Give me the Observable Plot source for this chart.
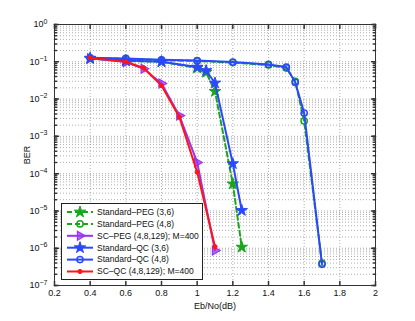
<!DOCTYPE html>
<html><head><meta charset="utf-8">
<script src="https://cdn.jsdelivr.net/npm/d3@7"></script>
<script src="https://cdn.jsdelivr.net/npm/@observablehq/plot@0.6"></script>
<style>
body{margin:0;background:#fff;}
#wrap{position:relative;width:415px;height:321px;font-family:"Liberation Sans",Arial,Helvetica,sans-serif;}
#legend{position:absolute;left:61px;top:203px;width:140px;height:75px;border:1px solid #222;background:#fff;}
</style></head><body><div id="wrap"></div>
<script>
// ---- data ----
const seriesNames = ["Standard–PEG (3,6)","Standard–PEG (4,8)","SC–PEG (4,8,129); M=400","Standard–QC (3,6)","Standard–QC (4,8)","SC–QC (4,8,129); M=400"];
const seriesColors = ["#1aa51a","#1aa51a","#9a32f5","#2b48ff","#2b48ff","#ff1515"];
const seriesDash = ["5,3","5,3",null,null,null,null];
const seriesSymbols = ["star","circle","triangle","star","circle","circle"];

const ebnoPeg36 = [0.4,0.6,0.8,1.0,1.05,1.1,1.2,1.25];
const berPeg36  = [0.12,0.105,0.1,0.068,0.052,0.016,5.3e-5,1.07e-6];
const ebnoPeg48 = [0.4,0.6,0.8,1.0,1.2,1.4,1.5,1.55,1.6,1.7];
const berPeg48  = [0.125,0.12,0.11,0.105,0.095,0.082,0.068,0.03,0.0026,4e-7];
const ebnoScPeg = [0.4,0.6,0.7,0.8,0.9,1.0,1.1];
const berScPeg  = [0.125,0.098,0.065,0.026,0.0036,2e-4,8.7e-7];
const ebnoQc36  = [0.4,0.6,0.8,1.0,1.05,1.1,1.2,1.25];
const berQc36   = [0.125,0.108,0.1,0.072,0.058,0.027,1.85e-4,1.03e-5];
const ebnoQc48  = [0.4,0.6,0.8,1.0,1.2,1.4,1.5,1.55,1.6,1.7];
const berQc48   = [0.128,0.123,0.113,0.108,0.098,0.085,0.072,0.028,0.0042,3.7e-7];
const ebnoScQc  = [0.4,0.6,0.7,0.8,0.9,1.0,1.1];
const berScQc   = [0.128,0.1,0.068,0.023,0.0033,1.1e-4,1.1e-6];

const xTickVals   = [0.2,0.4,0.6,0.8,1.0,1.2,1.4,1.6,1.8,2.0];
const xTickLabels = ["0.2","0.4","0.6","0.8","1","1.2","1.4","1.6","1.8","2"];
const yTickVals   = [1e-7,1e-6,1e-5,1e-4,1e-3,1e-2,1e-1,1];
const yTickExps   = ["−7","−6","−5","−4","−3","−2","−1","0"];
const xLabel = "Eb/No(dB)";
const yLabel = "BER";

// ---- build tables ----
const xs = [ebnoPeg36,ebnoPeg48,ebnoScPeg,ebnoQc36,ebnoQc48,ebnoScQc];
const ys = [berPeg36,berPeg48,berScPeg,berQc36,berQc48,berScQc];
const series = seriesNames.map((name,i)=>({name,i,rows:xs[i].map((x,j)=>({x,y:ys[i][j]}))}));

const yMinor = [];
yTickVals.forEach((v,k)=>{ if(k<yTickVals.length-1) for(let m=1;m<=9;m++) yMinor.push(m*v); });
yMinor.push(1);

const tickShape = {draw(ctx,l){ctx.moveTo(0,0);ctx.lineTo(0,-l);}};
const tickCol = "#333";

function dotOpts(i){
  const c = seriesColors[i], s = seriesSymbols[i];
  const base = {x:"x",y:"y",stroke:c,symbol:s};
  if(i===5) return {...base,r:2.1,fill:c,strokeWidth:1};
  if(s==="star") return {...base,r:3.6,fill:c,strokeWidth:1};
  if(s==="triangle") return {...base,r:3.3,fill:c,fillOpacity:0.7,strokeWidth:1.2,rotate:90};
  return {...base,r:3.1,fill:"none",strokeWidth:1.5};
}

const marks = [
  Plot.ruleY(yMinor,{y:d=>d,stroke:"#8c8c8c",strokeWidth:0.7,strokeDasharray:"1,2"}),
  Plot.ruleX(xTickVals.slice(1,-1),{x:d=>d,stroke:"#8c8c8c",strokeWidth:0.7,strokeDasharray:"1,2"}),
  Plot.vector(xTickVals,{x:d=>d,frameAnchor:"bottom",length:4,rotate:0,anchor:"start",shape:tickShape,stroke:tickCol}),
  Plot.vector(xTickVals,{x:d=>d,frameAnchor:"top",length:4,rotate:180,anchor:"start",shape:tickShape,stroke:tickCol}),
  Plot.vector(yTickVals,{y:d=>d,frameAnchor:"left",length:4,rotate:90,anchor:"start",shape:tickShape,stroke:tickCol}),
  Plot.vector(yTickVals,{y:d=>d,frameAnchor:"right",length:4,rotate:-90,anchor:"start",shape:tickShape,stroke:tickCol}),
  Plot.vector(yMinor,{y:d=>d,frameAnchor:"left",length:2,rotate:90,anchor:"start",shape:tickShape,stroke:tickCol}),
  Plot.vector(yMinor,{y:d=>d,frameAnchor:"right",length:2,rotate:-90,anchor:"start",shape:tickShape,stroke:tickCol}),
  Plot.frame({stroke:"#333",strokeWidth:1}),
  Plot.axisX(xTickVals,{anchor:"bottom",tickSize:0,tickPadding:4,fontSize:9,
    tickFormat:d=>xTickLabels[xTickVals.indexOf(d)],label:xLabel,labelArrow:"none",labelAnchor:"center",labelOffset:23}),
  Plot.axisY(yTickVals,{anchor:"left",tickSize:0,tickPadding:7,fontSize:9,
    tickFormat:d=>"10^"+yTickExps[yTickVals.indexOf(d)],label:yLabel,labelArrow:"none",labelAnchor:"center",labelOffset:31}),
];
series.forEach(s=>{
  marks.push(Plot.line(s.rows,{x:"x",y:"y",stroke:seriesColors[s.i],strokeWidth:2,
    strokeDasharray:seriesDash[s.i]||undefined}));
  marks.push(Plot.dot(s.rows,dotOpts(s.i)));
});

const plot = Plot.plot({
  width:415,height:321,
  marginLeft:54,marginRight:40,marginTop:24,marginBottom:36,
  style:{fontFamily:"'Liberation Sans',Arial,Helvetica,sans-serif",fontSize:"9px",color:"#111",background:"#fff"},
  x:{domain:[0.2,2]},
  y:{type:"log",domain:[1e-7,1]},
  marks
});
document.getElementById("wrap").appendChild(plot);

// superscript exponents on y tick labels; strip any label arrows
d3.select(plot).selectAll("text").each(function(){
  const t = this.textContent;
  if(this.childElementCount===0 && t.startsWith("10^")){
    const e = t.slice(3);
    const sel = d3.select(this);
    sel.text("");
    sel.append("tspan").text("10");
    sel.append("tspan").attr("dy","-0.55em").attr("font-size","7px").text(e);
  } else if(this.childElementCount===0 && /[↑→]/.test(t)){
    this.textContent = t.replace(/\s*[↑→]\s*/g,"");
  }
});

// legend (built from the series arrays)
const leg = d3.select("#wrap").append("div").attr("id","legend");
const lsvg = leg.append("svg").attr("width",140).attr("height",75);
series.forEach((s,k)=>{
  const cy = 8 + k*11.9;
  const c = seriesColors[s.i];
  lsvg.append("line").attr("x1",5).attr("x2",31).attr("y1",cy).attr("y2",cy)
    .attr("stroke",c).attr("stroke-width",2).attr("stroke-dasharray",seriesDash[s.i]);
  const o = dotOpts(s.i);
  const symType = o.symbol==="star"?d3.symbolStar:o.symbol==="triangle"?d3.symbolTriangle:d3.symbolCircle;
  lsvg.append("path").attr("d",d3.symbol(symType,Math.PI*o.r*o.r)())
    .attr("transform",`translate(18,${cy}) rotate(${o.rotate||0})`)
    .attr("fill",o.fill).attr("fill-opacity",o.fillOpacity??1).attr("stroke",c).attr("stroke-width",o.strokeWidth);
  lsvg.append("text").attr("x",35).attr("y",cy).attr("dy","0.33em").attr("font-size","8.5px")
    .attr("font-family","'Liberation Sans',Arial,sans-serif").attr("fill","#111").text(s.name);
});
</script></body></html>
